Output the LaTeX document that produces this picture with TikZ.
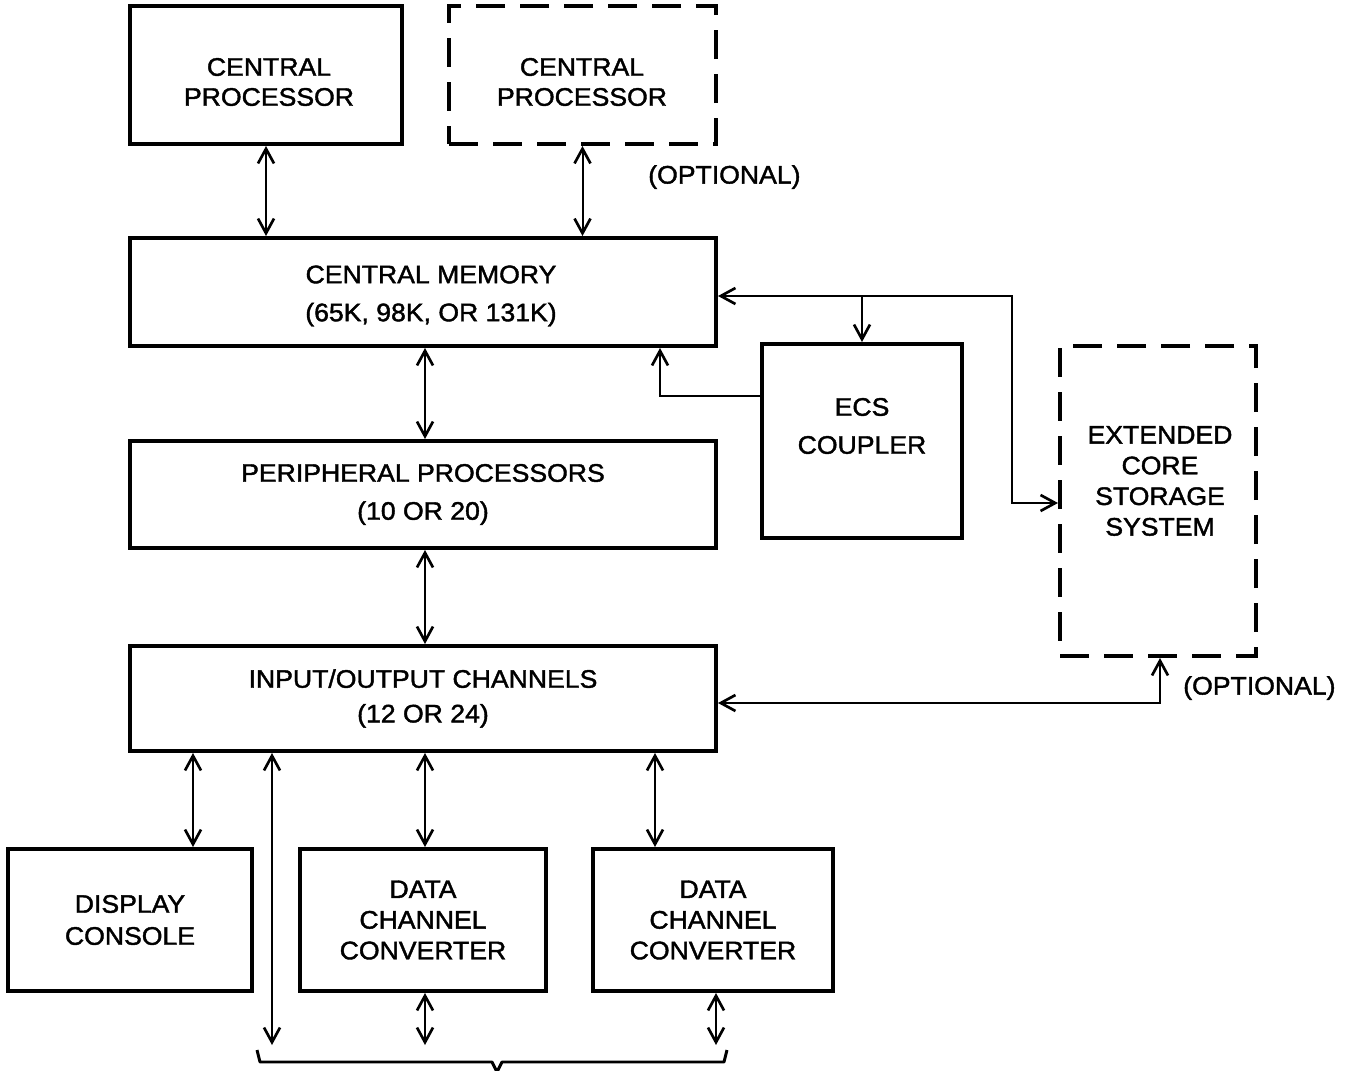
\documentclass[tikz,border=0pt]{standalone}
\usepackage{fontspec}
\newfontfamily\lett{Liberation Sans}[FakeStretch=1.05, FakeBold=1.6]
\usetikzlibrary{arrows.meta}
\begin{document}
\begin{tikzpicture}[x=0.75pt,y=-0.75pt,
  wh/.style 2 args={minimum width=#1*0.75pt, minimum height=#2*0.75pt},
  box/.style={draw, line width=3pt, inner sep=0pt, align=center,
    font=\fontsize{19}{28.5}\selectfont\lett},
  dbox/.style={box, dash pattern=on 22pt off 11pt},
  lbl/.style={inner sep=0pt, align=center, font=\fontsize{19}{28.5}\selectfont\lett},
  conn/.style={line width=1.5pt},
  >={Straight Barb[length=11pt, width=12pt, line width=2pt]}]
\useasboundingbox (0,0) rectangle (1372,1071);
% boxes
\node[box, wh={272}{138}] (cp1) at (266,75) {};
\node[lbl, font=\fontsize{19}{22.5}\selectfont\lett] (cp1t) at (269,82) {CENTRAL\\PROCESSOR};
\node[dbox, wh={267}{138}] (cp2) at (582.5,75) {};
\node[lbl, font=\fontsize{19}{22.5}\selectfont\lett] (cp2t) at (582,82) {CENTRAL\\PROCESSOR};
\node[lbl, anchor=west] (opt1) at (648,177) {(OPTIONAL)};
\node[box, wh={586}{108}] (cm) at (423,292) {};
\node[lbl] (cmt) at (431,296) {CENTRAL MEMORY\\(65K, 98K, OR 131K)};
\node[box, wh={200}{194}] (ecs) at (862,441) {};
\node[lbl] (ecst) at (862,426) {ECS\\COUPLER};
\node[dbox, wh={196}{310}] (ecss) at (1158,501) {};
\node[lbl, font=\fontsize{19}{23}\selectfont\lett] (ecsst) at (1160,481) {EXTENDED\\CORE\\STORAGE\\SYSTEM};
\node[box, wh={586}{107}] (pp) at (423,494.5) {PERIPHERAL PROCESSORS\\(10 OR 20)};
\node[box, wh={586}{105}, font=\fontsize{19}{26}\selectfont\lett] (io) at (423,698.5) {INPUT/OUTPUT CHANNELS\\(12 OR 24)};
\node[box, wh={244}{142}, font=\fontsize{19}{24}\selectfont\lett] (dc) at (130,920) {DISPLAY\\CONSOLE};
\node[box, wh={246}{142}, font=\fontsize{19}{23}\selectfont\lett] (dcc1) at (423,920) {DATA\\CHANNEL\\CONVERTER};
\node[box, wh={240}{142}, font=\fontsize{19}{23}\selectfont\lett] (dcc2) at (713,920) {DATA\\CHANNEL\\CONVERTER};
\node[lbl, anchor=west] (opt2) at (1183,688) {(OPTIONAL)};
% guides
\coordinate (g193) at (193,0);
\coordinate (g272) at (272,0);
\coordinate (g425) at (425,0);
\coordinate (g655) at (655,0);
\coordinate (g660) at (660,0);
\coordinate (g716) at (716,0);
\coordinate (g862) at (862,0);
\coordinate (g1012) at (1012,0);
\coordinate (g1160) at (1160,0);
\coordinate (h296) at (0,296);
\coordinate (h396) at (0,396);
\coordinate (h503) at (0,503);
\coordinate (h703) at (0,703);
\coordinate (b1) at (272,1045);
\coordinate (b2) at (425,1045);
\coordinate (b3) at (716,1045);
% connectors
\draw[conn,<->] (cp1.south) -- (cp1.south |- cm.north);
\draw[conn,<->] (cp2.south) -- (cp2.south |- cm.north);
\draw[conn,<->] (g425 |- cm.south) -- (g425 |- pp.north);
\draw[conn,<->] (g425 |- pp.south) -- (g425 |- io.north);
\draw[conn,<->] (g193 |- io.south) -- (g193 |- dc.north);
\draw[conn,<->] (g272 |- io.south) -- (b1);
\draw[conn,<->] (g425 |- io.south) -- (g425 |- dcc1.north);
\draw[conn,<->] (g655 |- io.south) -- (g655 |- dcc2.north);
\draw[conn,<->] (g425 |- dcc1.south) -- (b2);
\draw[conn,<->] (g716 |- dcc2.south) -- (b3);
\draw[conn,<->] (cm.east |- h296) -- (g1012 |- h296) -- (g1012 |- h503) -- (ecss.west |- h503);
\draw[conn,->] (g862 |- h296) -- (ecs.north);
\draw[conn,->] (ecs.west |- h396) -- (g660 |- h396) -- (g660 |- cm.south);
\draw[conn,<->] (io.east |- h703) -- (g1160 |- h703) -- (g1160 |- ecss.south);
% brace
\draw[line width=2.2pt, line join=round] (257,1050) -- (260,1062) -- (492,1062) -- (497,1072) -- (502,1062) -- (724,1062) -- (727,1050);
\end{tikzpicture}
\end{document}
